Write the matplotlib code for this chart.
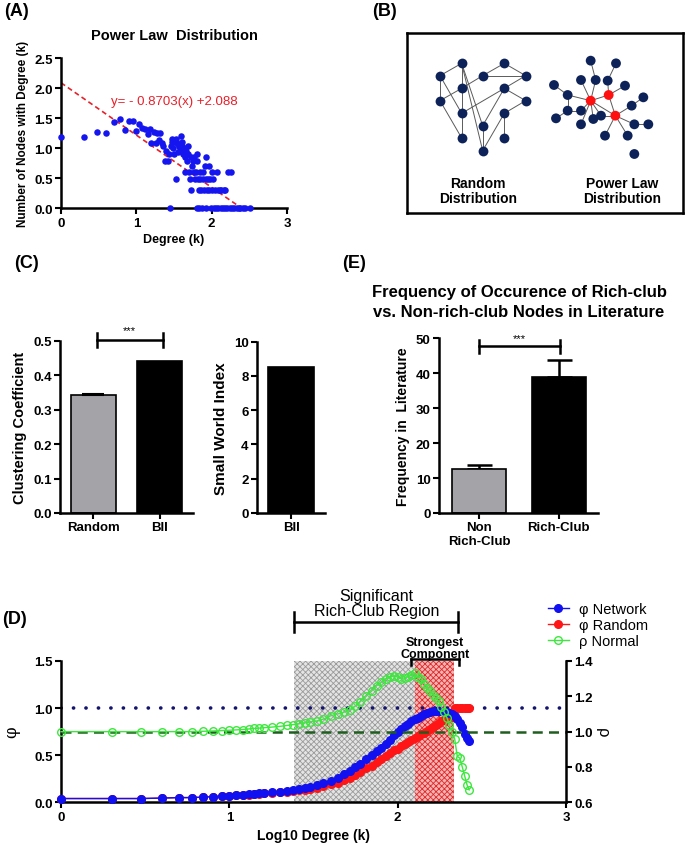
import numpy as np
import matplotlib
matplotlib.use('Agg')
import matplotlib.pyplot as plt

plt.rcParams['font.family'] = ['Liberation Sans', 'DejaVu Sans']
plt.rcParams['font.weight'] = 'bold'
plt.rcParams['axes.labelweight'] = 'bold'
plt.rcParams['hatch.linewidth'] = 0.6

# ---------------- data ----------------
# (A) power law scatter: log10 degree vs log10 count
pl_x = [0.00, 0.30, 0.48, 0.60, 0.70, 0.78, 0.85, 0.90, 0.95, 1.00, 1.04, 1.08, 1.11, 1.15, 1.18,
        1.20, 1.23, 1.26, 1.28, 1.30, 1.32, 1.34, 1.36, 1.38, 1.40, 1.42, 1.43, 1.45, 1.46, 1.48,
        1.49, 1.51, 1.52, 1.53, 1.54, 1.55, 1.56, 1.58, 1.59, 1.60, 1.61, 1.62, 1.63, 1.65, 1.65,
        1.66, 1.67, 1.68, 1.69, 1.70, 1.71, 1.72, 1.73, 1.74, 1.75, 1.76, 1.77, 1.78, 1.79, 1.80,
        1.80, 1.81, 1.82, 1.83, 1.83, 1.84, 1.85, 1.86, 1.87, 1.88, 1.89, 1.90, 1.91, 1.92, 1.92,
        1.93, 1.94, 1.95, 1.96, 1.97, 1.98, 1.99, 2.00, 2.01, 2.02, 2.03, 2.04, 2.06, 2.07, 2.08,
        2.09, 2.11, 2.12, 2.13, 2.15, 2.16, 2.18, 2.18, 2.21, 2.22, 2.24, 2.26, 2.27, 2.30, 2.33,
        2.36, 2.38, 2.41, 2.44, 2.51, 1.57, 1.61, 1.64, 1.50, 1.47]
pl_y = [1.18, 1.18, 1.27, 1.25, 1.43, 1.48, 1.30, 1.46, 1.45, 1.28, 1.41, 1.34, 1.32, 1.23, 1.32,
        1.08, 1.27, 1.09, 1.26, 1.13, 1.26, 1.08, 1.04, 0.78, 0.95, 0.78, 0.90, 0.00, 1.04, 1.15,
        1.00, 1.11, 0.48, 1.15, 1.08, 0.93, 1.04, 1.00, 1.20, 0.95, 1.11, 0.90, 1.00, 0.60, 0.85,
        0.95, 0.78, 0.90, 1.04, 0.60, 0.48, 0.85, 0.30, 0.70, 0.78, 0.60, 0.85, 0.48, 0.60, 0.90,
        0.00, 0.78, 0.48, 0.30, 0.00, 0.60, 0.48, 0.30, 0.00, 0.48, 0.60, 0.30, 0.70, 0.85, 0.48,
        0.00, 0.30, 0.48, 0.70, 0.30, 0.48, 0.00, 0.30, 0.60, 0.48, 0.00, 0.30, 0.00, 0.60, 0.30,
        0.00, 0.30, 0.00, 0.30, 0.00, 0.30, 0.00, 0.30, 0.00, 0.60, 0.00, 0.60, 0.00, 0.00, 0.00,
        0.00, 0.00, 0.00, 0.00, 0.00, 1.04, 1.04, 0.95, 0.90, 1.11]
fit_slope = -0.8703
fit_intercept = 2.088

# (B) schematic networks
rand_x = [245, 373, 180, 308, 437, 245, 373, 180, 437, 245, 373, 308, 245, 373, 308]
rand_y = [133, 133, 170, 170, 170, 208, 208, 245, 245, 283, 283, 320, 357, 357, 395]
rand_edges = [(0, 2), (0, 5), (0, 11), (0, 14), (1, 3), (1, 4), (3, 4), (2, 9), (5, 3),
              (7, 5), (7, 12), (9, 5), (9, 12), (9, 6), (6, 4), (6, 8), (6, 11), (8, 10),
              (10, 13), (11, 14), (10, 14), (2, 7)]
pow_x = [632, 686, 706, 632, 708, 522, 603, 647, 683, 735, 563, 790, 755, 563, 603, 528, 640,
         663, 603, 763, 805, 675, 743, 763]
pow_y = [245, 228, 290, 125, 133, 198, 183, 183, 185, 200, 228, 235, 260, 275, 275, 298, 300,
         290, 316, 316, 316, 350, 350, 405]
pow_hubs = [0, 1, 2]
pow_edges = [(0, 1), (0, 2), (0, 6), (0, 7), (0, 10), (0, 14), (0, 16), (0, 17), (0, 18),
             (1, 2), (1, 8), (1, 9), (3, 7), (4, 8), (2, 12), (2, 19), (2, 21), (2, 22),
             (2, 17), (12, 11), (19, 20), (10, 5), (10, 13), (13, 15), (13, 14)]

# (C) clustering coefficient & small world
cc_cats = ['Random', 'BII']
cc_vals = [0.342, 0.440]
cc_err = [0.002, 0.0]
sw_cats = ['BII']
sw_vals = [8.55]

# (E) frequency in literature
fr_cats = ['Non\nRich-Club', 'Rich-Club']
fr_vals = [12.5, 39.0]
fr_err = [1.1, 4.8]

# (D) rich club curves
rc_degree = [1, 2, 3, 4, 5, 6, 7, 8, 9, 10, 11, 12, 13, 14, 15, 16, 18, 20, 22, 24, 26, 28, 30,
             33, 36, 40, 44, 48, 52, 56, 60, 65, 70, 75, 80, 85, 90, 95, 100, 105, 110, 115,
             120, 126, 132, 138, 144, 150, 156, 162, 168, 175, 182, 189, 196, 203, 210, 218,
             226, 234, 242, 250, 258, 266]
phi_network = [0.04, 0.04, 0.04, 0.045, 0.05, 0.05, 0.055, 0.06, 0.065, 0.07, 0.075, 0.08,
               0.085, 0.09, 0.095, 0.10, 0.105, 0.11, 0.12, 0.13, 0.14, 0.15, 0.16, 0.18, 0.20,
               0.23, 0.26, 0.30, 0.33, 0.37, 0.41, 0.46, 0.50, 0.54, 0.58, 0.62, 0.66, 0.71,
               0.75, 0.78, 0.81, 0.83, 0.86, 0.88, 0.90, 0.92, 0.94, 0.95, 0.96, 0.97, 0.97,
               0.97, 0.97, 0.96, 0.96, 0.95, 0.94, 0.92, 0.88, 0.84, 0.80, 0.72, 0.68, 0.65]
phi_random = [0.04, 0.04, 0.04, 0.045, 0.05, 0.05, 0.055, 0.06, 0.065, 0.07, 0.075, 0.078,
              0.082, 0.087, 0.09, 0.095, 0.10, 0.105, 0.11, 0.12, 0.13, 0.135, 0.14, 0.155,
              0.17, 0.19, 0.21, 0.24, 0.26, 0.29, 0.32, 0.36, 0.39, 0.43, 0.46, 0.49, 0.52,
              0.55, 0.57, 0.60, 0.62, 0.64, 0.66, 0.68, 0.70, 0.72, 0.74, 0.76, 0.78, 0.80,
              0.82, 0.84, 0.86, 0.87, 0.89, 0.90, 0.91, 1.0, 1.0, 1.0, 1.0, 1.0, 1.0, 1.0]
rho_normal = [1.0, 1.0, 1.0, 1.0, 1.0, 1.0, 1.002, 1.004, 1.006, 1.008, 1.01, 1.012, 1.015,
              1.018, 1.02, 1.022, 1.026, 1.03, 1.035, 1.04, 1.045, 1.05, 1.055, 1.06, 1.07,
              1.09, 1.10, 1.11, 1.125, 1.145, 1.17, 1.20, 1.23, 1.26, 1.28, 1.30, 1.31, 1.315,
              1.31, 1.30, 1.305, 1.31, 1.32, 1.33, 1.31, 1.30, 1.27, 1.245, 1.23, 1.21, 1.19,
              1.175, 1.14, 1.11, 1.08, 1.04, 1.00, 0.96, 0.86, 0.85, 0.80, 0.75, 0.70, 0.67]
phi_reference = 1.0
rho_reference = 1.0
sig_region = (1.385, 2.36)
strong_region = (2.10, 2.335)

# ---------------- figure ----------------
W, H = 685, 845
fig = plt.figure(figsize=(6.85, 8.45), dpi=100)


def rect(l, t, r, b):
    return [l / W, 1 - b / H, (r - l) / W, (b - t) / H]


def style(ax, lw=1.8, ls=9.5):
    ax.spines['top'].set_visible(False)
    ax.spines['right'].set_visible(False)
    ax.spines['left'].set_linewidth(lw)
    ax.spines['bottom'].set_linewidth(lw)
    ax.tick_params(direction='out', length=4, width=1.5, labelsize=ls, pad=2)
    for lab in ax.get_xticklabels() + ax.get_yticklabels():
        lab.set_fontweight('bold')


def ptext(x, y, s, **kw):
    fig.text(x / W, 1 - y / H, s, **kw)


# ----- (A) -----
axA = fig.add_axes(rect(61, 59, 287, 209.3))
xs = np.array([0, 2.4])
axA.plot(xs, fit_slope * xs + fit_intercept, ls=(0, (3, 2)), color='#e8202a', lw=1.2, zorder=2)
axA.scatter(pl_x, pl_y, s=22, color='#1515f0', zorder=3, clip_on=False, linewidths=0)
axA.set_xlim(0, 3)
axA.set_ylim(0, 2.5)
axA.set_xticks([0, 1, 2, 3])
axA.set_yticks([0, 0.5, 1.0, 1.5, 2.0, 2.5])
axA.set_yticklabels(['0.0', '0.5', '1.0', '1.5', '2.0', '2.5'])
style(axA)
axA.set_xlabel('Degree (k)', fontsize=9, labelpad=3)
axA.set_ylabel('Number of Nodes with Degree (k)', fontsize=8.5, labelpad=4)
axA.set_title('Power Law  Distribution', fontsize=10.5, fontweight='bold', pad=14)
axA.text(1.51, 1.79, 'y= - %.4f(x) +%.3f' % (-fit_slope, fit_intercept), color='#e8202a',
         fontsize=9.5, fontweight='normal', ha='center', va='center')
ptext(4, 12, '(A)', fontsize=13, fontweight='bold', va='center')

# ----- (B) -----
axB = fig.add_axes(rect(407, 34, 683, 214))
axB.set_xlim(81, 909)
axB.set_ylim(582, 42)
axB.set_xticks([])
axB.set_yticks([])
for s in axB.spines.values():
    s.set_linewidth(1.8)
for i, j in rand_edges:
    axB.plot([rand_x[i], rand_x[j]], [rand_y[i], rand_y[j]], color='#5a5a5a', lw=0.7, zorder=1)
for i, j in pow_edges:
    axB.plot([pow_x[i], pow_x[j]], [pow_y[i], pow_y[j]], color='#5a5a5a', lw=0.7, zorder=1)
axB.scatter(rand_x, rand_y, s=50, color='#0d2258', zorder=3, linewidths=0)
pow_cols = ['#ff1010' if k in pow_hubs else '#0d2258' for k in range(len(pow_x))]
axB.scatter(pow_x, pow_y, s=50, color=pow_cols, zorder=3, linewidths=0)
axB.text(295, 515, 'Random\nDistribution', ha='center', va='center', fontsize=10,
         fontweight='bold', linespacing=1.05)
axB.text(727, 515, 'Power Law\nDistribution', ha='center', va='center', fontsize=10,
         fontweight='bold', linespacing=1.05)
ptext(372, 12, '(B)', fontsize=13, fontweight='bold', va='center')

# ----- (C) left -----
axC = fig.add_axes(rect(60, 341.7, 193, 514))
axC.bar([0, 1], cc_vals, width=0.68, color=['#a3a3a8', '#000000'], edgecolor='black',
        linewidth=1.2, zorder=2)
axC.errorbar([0], [cc_vals[0]], yerr=[[0], [cc_err[0]]], fmt='none', ecolor='black',
             capsize=8, capthick=1.5, elinewidth=1.5, zorder=3)
axC.set_xlim(-0.5, 1.5)
axC.set_ylim(0, 0.5)
axC.set_xticks([0, 1])
axC.set_xticklabels(cc_cats)
axC.set_yticks([0, 0.1, 0.2, 0.3, 0.4, 0.5])
axC.set_yticklabels(['0.0', '0.1', '0.2', '0.3', '0.4', '0.5'])
style(axC)
axC.tick_params(axis='x', labelsize=9.5)
axC.set_ylabel('Clustering Coefficient', fontsize=10.5, labelpad=4)
axC.plot([0.05, 1.05], [0.503, 0.503], color='black', lw=1.8, clip_on=False)
for xb in (0.05, 1.05):
    axC.plot([xb, xb], [0.483, 0.522], color='black', lw=1.8, clip_on=False)
axC.text(0.55, 0.515, '***', ha='center', va='bottom', fontsize=8, fontweight='normal')
ptext(14, 264, '(C)', fontsize=13, fontweight='bold', va='center')

# ----- (C) right -----
axS = fig.add_axes(rect(257, 342.7, 325, 514))
axS.bar([0], sw_vals, width=0.68, color='black', edgecolor='black', linewidth=1.2)
axS.set_xlim(-0.5, 0.5)
axS.set_ylim(0, 10)
axS.set_xticks([0])
axS.set_xticklabels(sw_cats)
axS.set_yticks([0, 2, 4, 6, 8, 10])
style(axS)
axS.tick_params(axis='x', labelsize=9.5)
axS.set_ylabel('Small World Index', fontsize=11, labelpad=4)

# ----- (E) -----
axE = fig.add_axes(rect(439, 339.3, 598, 514))
axE.bar([0, 1], fr_vals, width=0.675, color=['#a3a3a8', '#000000'], edgecolor='black',
        linewidth=1.2, zorder=2)
axE.errorbar([0, 1], fr_vals, yerr=[[0, 0], fr_err], fmt='none', ecolor='black', capsize=9,
             capthick=1.8, elinewidth=1.8, zorder=1)
axE.set_xlim(-0.5, 1.49)
axE.set_ylim(0, 50)
axE.set_xticks([0, 1])
axE.set_xticklabels(fr_cats, linespacing=1.15)
axE.set_yticks([0, 10, 20, 30, 40, 50])
style(axE)
axE.tick_params(axis='x', labelsize=9.5)
axE.set_ylabel('Frequency in  Literature', fontsize=10, labelpad=4)
axE.plot([0.0, 1.02], [47.9, 47.9], color='black', lw=1.8, clip_on=False)
for xb in (0.0, 1.02):
    axE.plot([xb, xb], [45.8, 49.5], color='black', lw=1.8, clip_on=False)
axE.text(0.51, 48.6, '***', ha='center', va='bottom', fontsize=8, fontweight='normal')
ptext(519, 293, 'Frequency of Occurence of Rich-club', ha='center', va='center', fontsize=12,
      fontweight='bold')
ptext(519, 313, 'vs. Non-rich-club Nodes in Literature', ha='center', va='center',
      fontsize=12, fontweight='bold')
ptext(342, 264, '(E)', fontsize=13, fontweight='bold', va='center')

# ----- (D) -----
axD = fig.add_axes(rect(61, 662, 566, 803.3))
logk = np.log10(rc_degree)
axD.axvspan(sig_region[0], strong_region[0], facecolor='#e4e4e4', edgecolor='#9a9a9a',
            hatch='xxxxxx', linewidth=0, zorder=0)
axD.axvspan(strong_region[0], strong_region[1], facecolor='#f6b4b4', edgecolor='#e02828',
            hatch='xxxxxx', linewidth=0, zorder=0)
axD.axhline(phi_reference, ls=(0, (0.05, 3.4)), lw=2.6, color='#14146e',
            dash_capstyle='round', zorder=1, xmax=0.99)
l_red, = axD.plot(logk, phi_random, color='#ff1515', marker='o', ms=5.5, lw=1.0,
                  label='φ Random', zorder=2, clip_on=False)
l_blue, = axD.plot(logk, phi_network, color='#1010f0', marker='o', ms=5.5, lw=1.0,
                   label='φ Network', zorder=3, clip_on=False)
axD.set_xlim(0, 3)
axD.set_ylim(0, 1.5)
axD.set_xticks([0, 1, 2, 3])
axD.set_yticks([0, 0.5, 1.0, 1.5])
axD.set_yticklabels(['0.0', '0.5', '1.0', '1.5'])
style(axD)
axD.set_xlabel('Log10 Degree (k)', fontsize=10, labelpad=4)
axD.set_ylabel('φ', fontsize=12, fontweight='normal', family='DejaVu Serif', labelpad=10)

axD2 = axD.twinx()
axD2.axhline(rho_reference, ls=(0, (4, 2.5)), lw=1.8, color='#1f5e1f', zorder=1)
l_green, = axD2.plot(logk, rho_normal, color='#3ee83e', marker='o', ms=5.5, mfc='none',
                     mew=1.0, lw=1.0, label='ρ Normal', zorder=4, clip_on=False)
axD2.set_ylim(0.6, 1.4)
axD2.set_yticks([0.6, 0.8, 1.0, 1.2, 1.4])
axD2.spines['top'].set_visible(False)
axD2.spines['left'].set_visible(False)
axD2.spines['bottom'].set_visible(False)
axD2.spines['right'].set_linewidth(1.8)
axD2.tick_params(direction='out', length=4, width=1.5, labelsize=9.5, pad=2)
for lab in axD2.get_yticklabels():
    lab.set_fontweight('bold')
axD2.set_ylabel('ρ', fontsize=12, fontweight='normal', rotation=270, labelpad=12)

# brackets
ytop = 1.914
axD.plot(sig_region, [ytop, ytop], color='black', lw=1.8, clip_on=False)
for xb in sig_region:
    axD.plot([xb, xb], [1.81, 2.02], color='black', lw=1.8, clip_on=False)
axD.text(np.mean(sig_region), 2.12, 'Significant\nRich-Club Region', ha='center', va='center',
         fontsize=11.5, fontweight='normal', linespacing=1.0)
sb = (2.08, 2.365)
axD.plot(sb, [1.522, 1.522], color='black', lw=1.8, clip_on=False)
for xb in sb:
    axD.plot([xb, xb], [1.46, 1.522], color='black', lw=1.8, clip_on=False)
axD.text(2.22, 1.64, 'Strongest\nComponent', ha='center', va='center', fontsize=9,
         fontweight='bold', linespacing=1.0)

fig.legend(handles=[l_blue, l_red, l_green], loc='upper left',
           bbox_to_anchor=(535 / W, 1 - 590 / H), frameon=False,
           handlelength=1.4, handletextpad=0.7, labelspacing=0.15,
           prop={'weight': 'normal', 'size': 10.5})
ptext(2, 620, '(D)', fontsize=13, fontweight='bold', va='center')

fig.savefig('out.png', dpi=100)
